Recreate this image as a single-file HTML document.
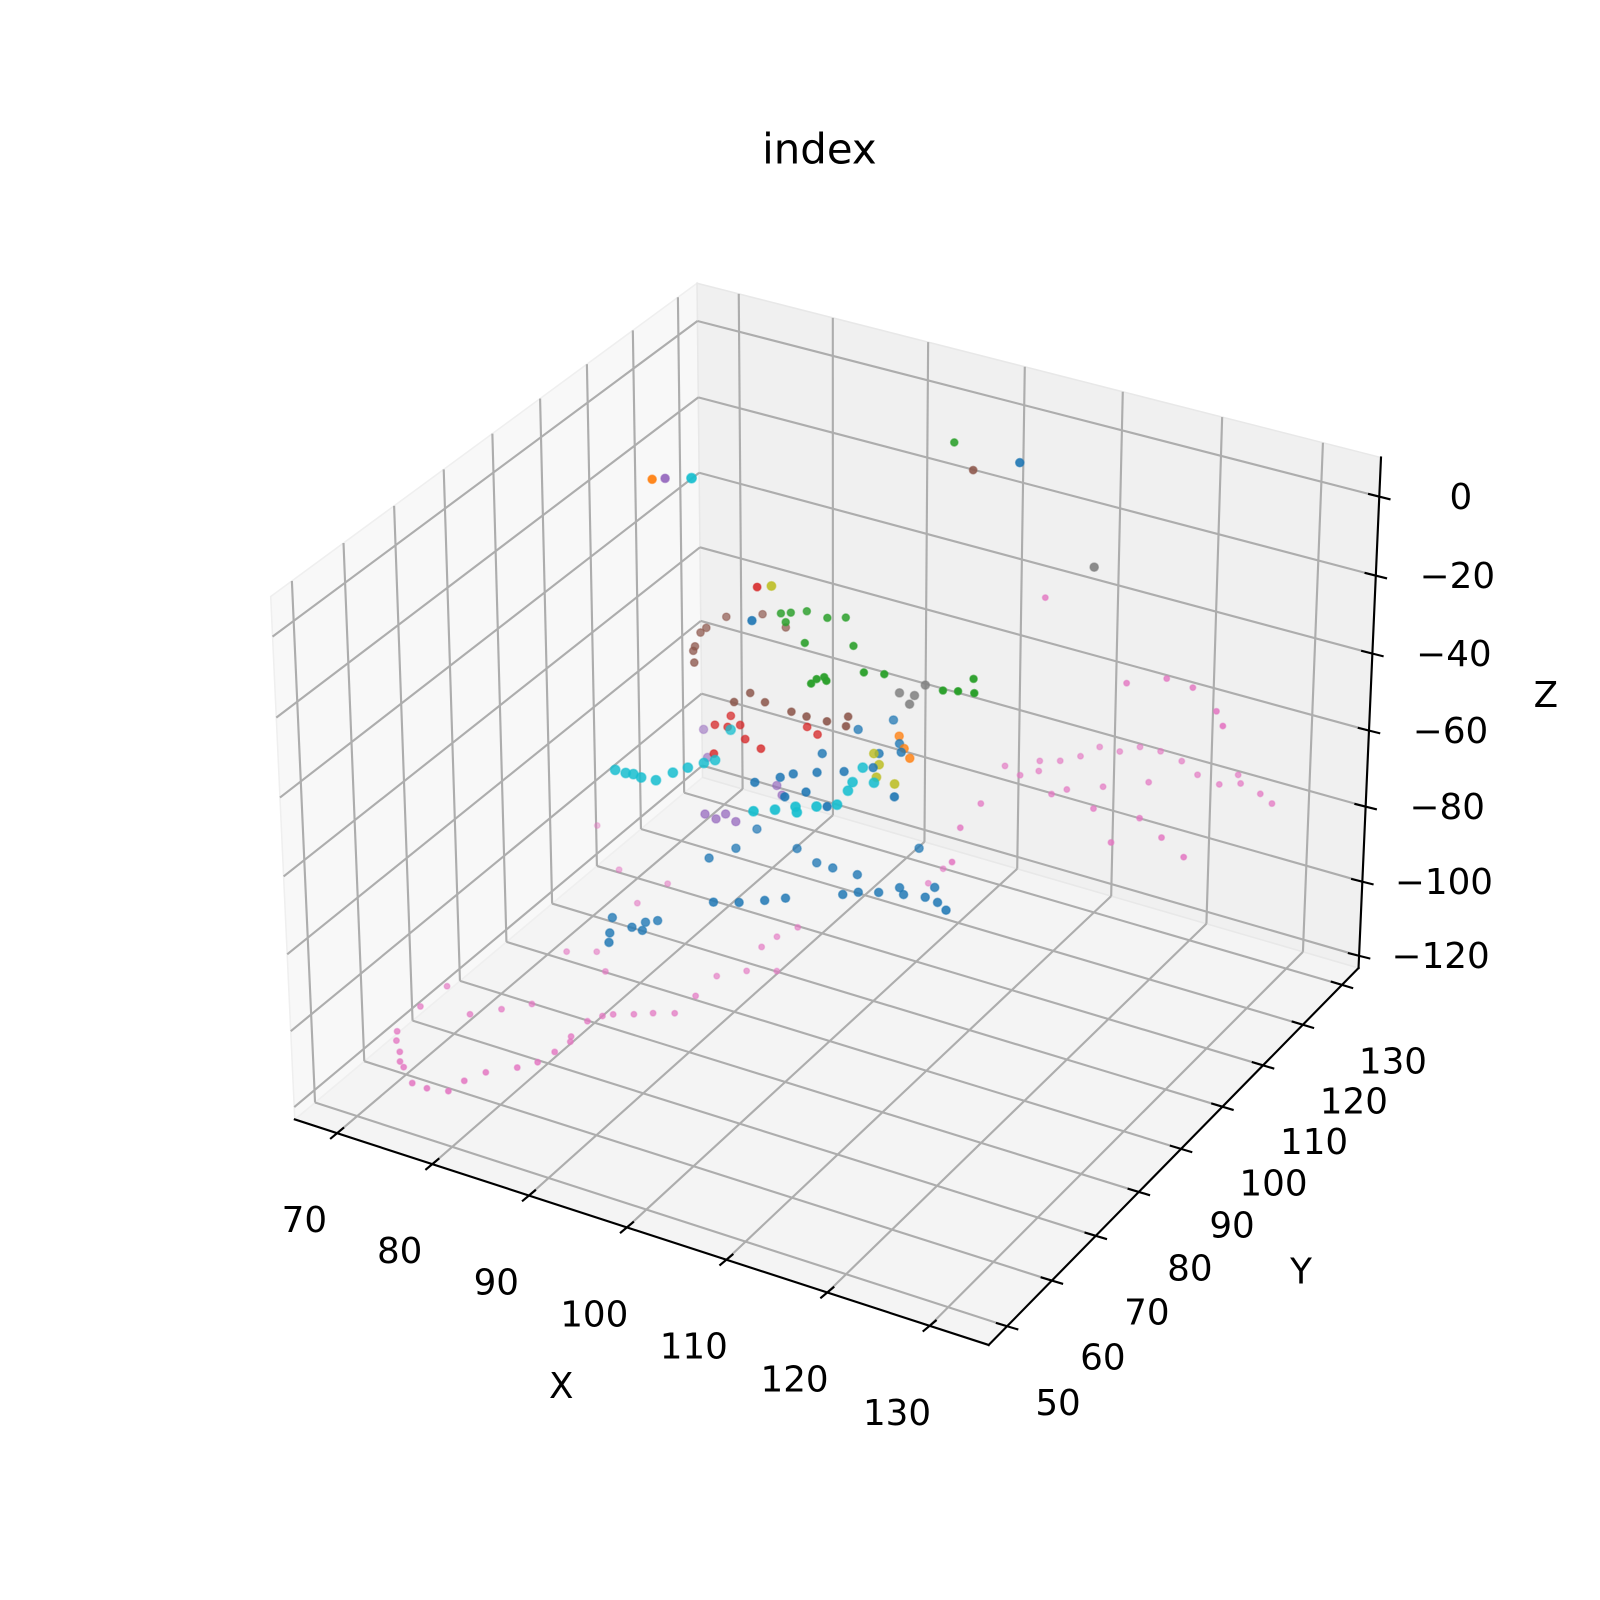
<!DOCTYPE html>
<html><head><meta charset="utf-8"><title>index</title>
<style>
html,body{margin:0;padding:0;background:#fff;}
svg{display:block;}
text{font-family:"DejaVu Sans","Liberation Sans",sans-serif;fill:#000;}
</style></head>
<body>
<svg id="chart" width="1600" height="1600" viewBox="0 0 1568 1568" xmlns="http://www.w3.org/2000/svg">
<rect x="0" y="0" width="1568" height="1568" fill="#ffffff"/>
<g id="panes"></g>
<g id="grid"></g>
<g id="axes"></g>
<g id="points"></g>
<text x="803" y="160" font-size="41" text-anchor="middle">index</text>
<text x="550" y="1370" font-size="35" text-anchor="middle">X</text>
<text x="1275" y="1258" font-size="35" text-anchor="middle">Y</text>
<text x="1515" y="693" font-size="35" text-anchor="middle">Z</text>
</svg>
<script>
// ---- axis limits and ticks ----
const xLim = [65.52, 135.7];
const yLim = [45.95, 134.3];
const zLim = [-123.3, 9.8];
const xTicks = [70, 80, 90, 100, 110, 120, 130];
const yTicks = [50, 60, 70, 80, 90, 100, 110, 120, 130];
const zTicks = [-120, -100, -80, -60, -40, -20, 0];
const xTickLabels = ["70","80","90","100","110","120","130"];
const yTickLabels = ["50","60","70","80","90","100","110","120","130"];
const zTickLabels = ["\u2212120","\u2212100","\u221280","\u221260","\u221240","\u221220","0"];

// ---- series data ----
const pinkX = [67.2,69.3,71.0,73.1,74.7,76.6,76.9,77.8,79.8,80.9,81.3,81.2,81.1,81.8,84.1,87.2,87.3,87.2,89.1,91.5,78.0,75.5,73.1,75.2,73.3,71.3,66.9,66.7,81.6,
 105.5,107.5,107.8,109.4,110.6,111.3,113.3,114.5,116.5,119.0,121.4,123.9,124.6,127.9,129.6,117.6,120.3,123.1,126.9,128.6,116.1,120.3,120.5,123.8,127.1,112.4,106.9,107.4,109.7,111.6,108.8,72.4,77.6,77.0,66.4,91.1,91.9,90.8,101.6,101.5,
 68.0,70.2,82.5,85.5,115.0,118.2,125.5,108.6];
const pinkY = [63.7,60.2,57.7,55.4,55.3,56.0,58.7,61.4,64.0,66.1,68.9,72.6,76.3,78.1,80.2,82.7,87.1,92.0,94.7,96.4,86.5,89.7,88.0,76.3,73.6,70.9,74.7,69.5,71.6,
 118.1,117.1,121.1,122.3,124.4,127.4,127.6,129.7,130.0,129.2,127.3,126.6,129.6,127.0,125.7,118.4,121.6,121.2,117.7,115.1,114.6,108.9,115.3,112.7,110.1,116.9,109.2,103.3,96.2,115.1,119.4,101.1,101.2,95.7,108.5,97.3,100.3,94.5,109.1,112.8,
 62.0,58.5,79.0,81.5,119.5,123.0,128.0,119.0];
const pinkZ = [-118,-118,-118,-118,-118,-118,-118,-118,-118,-118,-118,-118,-118,-118,-118,-118,-118,-118,-118,-118,-118,-118,-118,-118,-118,-118,-118,-118,-118,
 -75,-75,-75,-75,-75,-75,-75,-75,-75,-75,-75,-75,-75,-75,-75,-45,-45,-45,-45,-45,-75,-75,-75,-75,-75,-75,-75,-75,-75,-75,-30,-110,-110,-110,-110,-110,-110,-110,-100,-100,
 -118,-118,-118,-118,-75,-75,-75,-75];

const blueX = [83.6,84.0,85.4,81.6,85.1,91.5,93.5,95.3,96.7,100.8,103.4,104.6,107.4,110.1,102.7,100.2,97.7,96.0,93.2,87.2,88.4,88.3,107.3,96.2,97.4,100.3,96.5,95.2,95.8,99.6,97.7,100.3,104.6,100.4,94.1,92.6,106.9,90.1,
 82.8,84.6,101.8,105.5,108.8,98.5,101.2,94.8];
const blueY = [76.2,80.3,83.0,81.0,80.3,82.5,83.9,85.7,87.3,91.2,93.6,95.7,95.3,94.0,104.4,95.8,95.7,95.8,97.4,90.6,94.0,98.9,97.7,88.3,90.4,88.8,94.8,98.8,105.6,102.0,109.5,105.1,94.4,98.9,91.8,89.4,117.3,94.3,
 78.0,82.0,92.5,94.6,95.0,96.5,103.5,93.2];
const blueZ = [-95,-95,-95,-95,-95,-85,-85,-85,-85,-85,-85,-85,-85,-85,-85,-85,-85,-85,-85,-85,-85,-85,-85,-60,-60,-60,-60,-60,-60,-60,-60,-60,-60,-60,-60,-60,5,-25,
 -95,-95,-85,-85,-85,-60,-60,-60];

const cyanX = [80.7,81.8,83.4,84.8,85.4,86.1,86.9,95.1,96.6,97.9,99.5,100.9,100.1,99.6,85.9,83.3,
 82.5,87.5,98.5,100.5,101.8];
const cyanY = [84.0,84.0,84.0,84.3,86.7,88.5,90.3,83.8,85.3,87.0,88.2,89.7,94.9,98.3,98.3,95.8,
 84.2,91.5,86.0,93.0,96.0];
const cyanZ = [-60,-60,-60,-60,-60,-60,-60,-60,-60,-60,-60,-60,-60,-60,-60,5,
 -60,-60,-60,-60,-60];

const greenX = [101.1,89.8,91.6,93.8,95.2,94.4,98.4,98.6,99.5,98.6,101.6,103.3,109.2,110.4,110.5,111.8,91.0,90.5,99.0];
const greenY = [115.4,101.3,103.2,103.0,104.1,96.7,98.8,90.2,90.4,89.0,94.1,94.9,94.9,95.6,98.9,96.1,99.8,102.0,91.0];
const greenZ = [8,-30,-30,-30,-30,-30,-30,-30,-30,-30,-30,-30,-30,-30,-30,-30,-30,-30,-30];

const brownX = [103.3,80.7,79.8,79.8,80.3,82.2,89.4,91.4,94.3,95.9,97.9,99.8,99.1,89.0,82.9,81.0,86.0];
const brownY = [114.8,101.5,104.6,105.9,109.3,98.2,95.3,94.3,93.9,93.8,94.0,94.1,96.1,92.6,111.9,100.5,110.5];
const brownZ = [3,-45,-45,-45,-45,-45,-45,-45,-45,-45,-45,-45,-45,-45,-45,-45,-45];

const redX = [89.2,84.2,85.4,86.2,84.6,87.9,90.0,86.8,91.6,93.1];
const redY = [97.4,98.4,98.7,99.8,101.1,97.3,96.3,92.7,103.2,102.3];
const redZ = [-20,-60,-60,-60,-60,-60,-60,-60,-60,-60];

const orangeX = [80.4,99.6,101.1,102.4];
const orangeY = [93.4,106.6,104.4,102.8];
const orangeZ = [5,-60,-60,-60];

const purpleX = [81.3,84.6,85.9,86.2,87.7,79.5,76.5,87.6,88.9];
const purpleY = [94.3,95.2,94.9,96.4,95.5,106.5,111.9,104.9,103.3];
const purpleZ = [5,-80,-80,-80,-80,-80,-80,-80,-80];

const oliveX = [90.2,99.2,101.5,103.5,100.6];
const oliveY = [98.4,101.7,97.2,96.9,99.8];
const oliveZ = [-20,-60,-60,-60,-60];

const grayX = [115.0,100.9,102.2,102.7,102.3];
const grayY = [116.2,103.7,106.7,102.0,104.0];
const grayZ = [-15,-45,-45,-45,-45];

// ---- projection (mpl-like view: elev 30, azim -60) ----
const ASP = [1.1429, 1.1429, 0.8571];
const U = [0.8660, 0.5, 0];
const V = [-0.25, 0.4330, 0.8660];
const W = [0.4330, -0.75, 0.5];
const CX = 819.4, CY = 773.8, K = 6818, DIST = 10;
function world(x, y, z) {
  return [
    (x - xLim[0]) / (xLim[1] - xLim[0]) * ASP[0] - ASP[0] / 2,
    (y - yLim[0]) / (yLim[1] - yLim[0]) * ASP[1] - ASP[1] / 2,
    (z - zLim[0]) / (zLim[1] - zLim[0]) * ASP[2] - ASP[2] / 2
  ];
}
function proj(x, y, z) {
  const d = world(x, y, z);
  const a = d[0]*U[0] + d[1]*U[1] + d[2]*U[2];
  const b = d[0]*V[0] + d[1]*V[1] + d[2]*V[2];
  const dep = DIST - (d[0]*W[0] + d[1]*W[1] + d[2]*W[2]);
  return [CX + K * a / dep, CY - K * b / dep, dep];
}
const NS = "http://www.w3.org/2000/svg";
function mk(tag, attrs, parent) {
  const e = document.createElementNS(NS, tag);
  for (const k in attrs) e.setAttribute(k, attrs[k]);
  parent.appendChild(e);
  return e;
}
function poly(pts) { return pts.map(p => p[0].toFixed(1) + "," + p[1].toFixed(1)).join(" "); }

const [x0, x1] = xLim, [y0, y1] = yLim, [z0, z1] = zLim;
const panes = document.getElementById("panes");
let pf = mk("polygon", {points: poly([proj(x0,y0,z0),proj(x1,y0,z0),proj(x1,y1,z0),proj(x0,y1,z0)]), fill: "#f4f4f4", stroke: "#ececec", "stroke-width": 1.5}, panes);


let pl = mk("polygon", {points: poly([proj(x0,y0,z0),proj(x0,y1,z0),proj(x0,y1,z1),proj(x0,y0,z1)]), fill: "#f8f8f8", stroke: "#efefef", "stroke-width": 1.5}, panes);


let pb = mk("polygon", {points: poly([proj(x0,y1,z0),proj(x1,y1,z0),proj(x1,y1,z1),proj(x0,y1,z1)]), fill: "#f0f0f0", stroke: "#e8e8e8", "stroke-width": 1.5}, panes);



const grid = document.getElementById("grid");
function gline(p, q, name) {
  const l = mk("line", {x1: p[0], y1: p[1], x2: q[0], y2: q[1], stroke: "#adadad", "stroke-width": 2.1}, grid);
  
  
}
xTicks.forEach(t => {
  gline(proj(t,y0,z0), proj(t,y1,z0), 'grid-line-x');
  gline(proj(t,y1,z0), proj(t,y1,z1), 'grid-line-x');
});
yTicks.forEach(t => {
  gline(proj(x0,t,z0), proj(x1,t,z0), 'grid-line-y');
  gline(proj(x0,t,z0), proj(x0,t,z1), 'grid-line-y');
});
zTicks.forEach(t => {
  gline(proj(x0,y0,t), proj(x0,y1,t), 'grid-line-z');
  gline(proj(x0,y1,t), proj(x1,y1,t), 'grid-line-z');
});

const axes = document.getElementById("axes");
function aline(p, q, name) {
  const l = mk("line", {x1: p[0], y1: p[1], x2: q[0], y2: q[1], stroke: "#000", "stroke-width": 2.1, "stroke-linecap": "square"}, axes);
  
  
}
aline(proj(x0,y0,z0), proj(x1,y0,z0), 'x-axis-line');
aline(proj(x1,y0,z0), proj(x1,y1,z0), 'y-axis-line');
aline(proj(x1,y1,z0), proj(x1,y1,z1), 'z-axis-line');
function tlabel(x, y, s, name) {
  const t = mk("text", {x: x.toFixed(1), y: y.toFixed(1), "font-size": 35, "text-anchor": "middle"}, axes);
  t.textContent = s;
  
  
}
xTicks.forEach((t, i) => {
  const p = proj(t, y0, z0);
  aline([p[0]-6, p[1]+5], [p[0]+6, p[1]-5], 'x-tick');
  tlabel(p[0]-32, p[1]+97, xTickLabels[i], 'x-tick-label');
});
yTicks.forEach((t, i) => {
  const p = proj(x1, t, z0);
  aline([p[0]-10, p[1]-3], [p[0]+10, p[1]+3], 'y-tick');
  tlabel(p[0]+50, p[1]+87, yTickLabels[i], 'y-tick-label');
});
zTicks.forEach((t, i) => {
  const p = proj(x1, y1, t);
  aline([p[0]-10, p[1]-2.5], [p[0]+10, p[1]+2.5], 'z-tick');
  tlabel(p[0]+80, p[1]+12, zTickLabels[i], 'z-tick-label');
});

// ---- scatter points ----
const series = [
  {name: "pink", xs: pinkX, ys: pinkY, zs: pinkZ, color: "#e377c2", r: 2.8},
  {name: "blue", xs: blueX, ys: blueY, zs: blueZ, color: "#1f77b4", r: 4.1},
  {name: "cyan", xs: cyanX, ys: cyanY, zs: cyanZ, color: "#17becf", r: 4.7},
  {name: "green", xs: greenX, ys: greenY, zs: greenZ, color: "#2ca02c", r: 3.6},
  {name: "brown", xs: brownX, ys: brownY, zs: brownZ, color: "#8c564b", r: 3.7},
  {name: "red", xs: redX, ys: redY, zs: redZ, color: "#d62728", r: 3.8},
  {name: "orange", xs: orangeX, ys: orangeY, zs: orangeZ, color: "#ff7f0e", r: 4.1},
  {name: "purple", xs: purpleX, ys: purpleY, zs: purpleZ, color: "#9467bd", r: 4.1},
  {name: "olive", xs: oliveX, ys: oliveY, zs: oliveZ, color: "#bcbd22", r: 4.3},
  {name: "gray", xs: grayX, ys: grayY, zs: grayZ, color: "#7f7f7f", r: 4.1}
];
const all = [];
series.forEach(s => {
  for (let i = 0; i < s.xs.length; i++) {
    const p = proj(s.xs[i], s.ys[i], s.zs[i]);
    all.push({p: p, s: s});
  }
});
let dmin = Infinity, dmax = -Infinity;
all.forEach(o => { dmin = Math.min(dmin, o.p[2]); dmax = Math.max(dmax, o.p[2]); });
all.sort((a, b) => b.p[2] - a.p[2]);
const pg = document.getElementById("points");
all.forEach(o => {
  const f = (o.p[2] - dmin) / Math.max(1e-6, dmax - dmin);
  const op = 1 - 0.55 * f;
  const c = mk("circle", {cx: o.p[0].toFixed(1), cy: o.p[1].toFixed(1), r: o.s.r, fill: o.s.color, "fill-opacity": op.toFixed(2), stroke: o.s.color, "stroke-opacity": (op * 0.6).toFixed(2), "stroke-width": 1.4}, pg);
  
  
});
</script>
</body></html>
